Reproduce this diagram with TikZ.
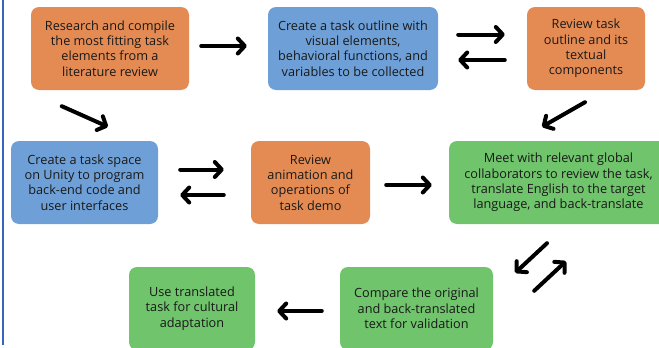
\documentclass[tikz,border=0pt]{standalone}
\usepackage{fontspec}
\setmainfont{Open Sans}
\usetikzlibrary{arrows.meta,calc}

\definecolor{boxorange}{RGB}{228,139,84}
\definecolor{boxblue}{RGB}{110,160,215}
\definecolor{boxgreen}{RGB}{112,196,108}
\definecolor{edgeblue}{RGB}{55,100,190}

\tikzset{
  stepbox/.style={rounded corners=8pt, align=center, text=black!90,
    font=\fontsize{12.7}{15.3}\selectfont, inner sep=0pt},
  flow/.style={line width=4pt, line cap=round,
    -{Straight Barb[length=7pt, width=15pt, line cap=round, line join=round]}}
}

\begin{document}
\begin{tikzpicture}[x=1pt, y=-1pt]
        \useasboundingbox (0,0) rectangle (659,348);
        % Left frame line
        \draw[edgeblue, line width=1.5pt] (3,0) -- (3,345);

        % Steps
        \node[stepbox, fill=boxorange, minimum width=158pt, minimum height=83pt] (lit) at (110,48.5)
            {Research and compile\\the most fitting task\\elements from a\\literature review};
        \node[stepbox, fill=boxblue, minimum width=170pt, minimum height=83pt] (outline) at (353,48.5)
            {Create a task outline with\\visual elements,\\behavioral functions, and\\variables to be collected};
        \node[stepbox, fill=boxorange, minimum width=118pt, minimum height=83pt] (revtext) at (586,48.5)
            {Review task\\outline and its\\textual\\components};
        \node[stepbox, fill=boxblue, minimum width=147pt, minimum height=83pt] (unity) at (84.5,182.5)
            {Create a task space\\on Unity to program\\back-end code and\\user interfaces};
        \node[stepbox, fill=boxorange, minimum width=119pt, minimum height=83pt] (demo) at (310.5,182.5)
            {Review\\animation and\\operations of\\task demo};
        \node[stepbox, fill=boxgreen, minimum width=219pt, minimum height=83pt] (meet) at (558.5,182.5)
            {Meet with relevant global\\collaborators to review the task,\\translate English to the target\\language, and back-translate};
        \node[stepbox, fill=boxgreen, minimum width=153pt, minimum height=83pt] (compare) at (416.5,308.5)
            {Compare the original\\and back-translated\\text for validation};
        \node[stepbox, fill=boxgreen, minimum width=126pt, minimum height=83pt] (adapt) at (192,308.5)
            {Use translated\\task for cultural\\adaptation};

        % Arrows between the steps
        \draw[flow, shorten <=12pt, shorten >=21pt] ($(lit.east)+(0,-2.5)$) -- ($(outline.west)+(0,-2.5)$);
        \draw[flow, shorten <=20pt, shorten >=22pt] ($(outline.east)+(0,-14)$) -- ($(revtext.west)+(0,-14)$);
        \draw[flow, shorten <=22pt, shorten >=20pt] ($(revtext.west)+(0,11.5)$) -- ($(outline.east)+(0,11.5)$);
        \draw[flow, shorten <=22pt, shorten >=27pt] ($(unity.east)+(0,-13)$) -- ($(demo.west)+(0,-13)$);
        \draw[flow, shorten <=27pt, shorten >=22pt] ($(demo.west)+(0,12.5)$) -- ($(unity.east)+(0,12.5)$);
        \draw[flow, shorten <=16pt, shorten >=17pt] ($(demo.east)+(0,2.5)$) -- ($(meet.west)+(0,2.5)$);
        \draw[flow, shorten <=18pt, shorten >=22pt] ($(compare.west)+(0,2.5)$) -- ($(adapt.east)+(0,2.5)$);

        % Diagonal arrows
        \coordinate (litout) at ($(lit.south west)+(31,16)$);
        \coordinate (unityin) at ($(unity.north)+(23.5,-14)$);
        \draw[flow] (litout) -- (unityin);
        \coordinate (revout) at ($(revtext.south)+(-1,12)$);
        \coordinate (meetin) at ($(meet.north)+(-16.5,-14)$);
        \draw[flow] (revout) -- (meetin);
        \coordinate (meetout) at ($(meet.south)+(-11.5,19)$);
        \coordinate (compin) at ($(compare.north east)+(22,6)$);
        \draw[flow] (meetout) -- (compin);
        \coordinate (compout) at ($(compare.north east)+(41,24)$);
        \coordinate (meetback) at ($(meet.south)+(7.5,37)$);
        \draw[flow] (compout) -- (meetback);
\end{tikzpicture}
\end{document}
